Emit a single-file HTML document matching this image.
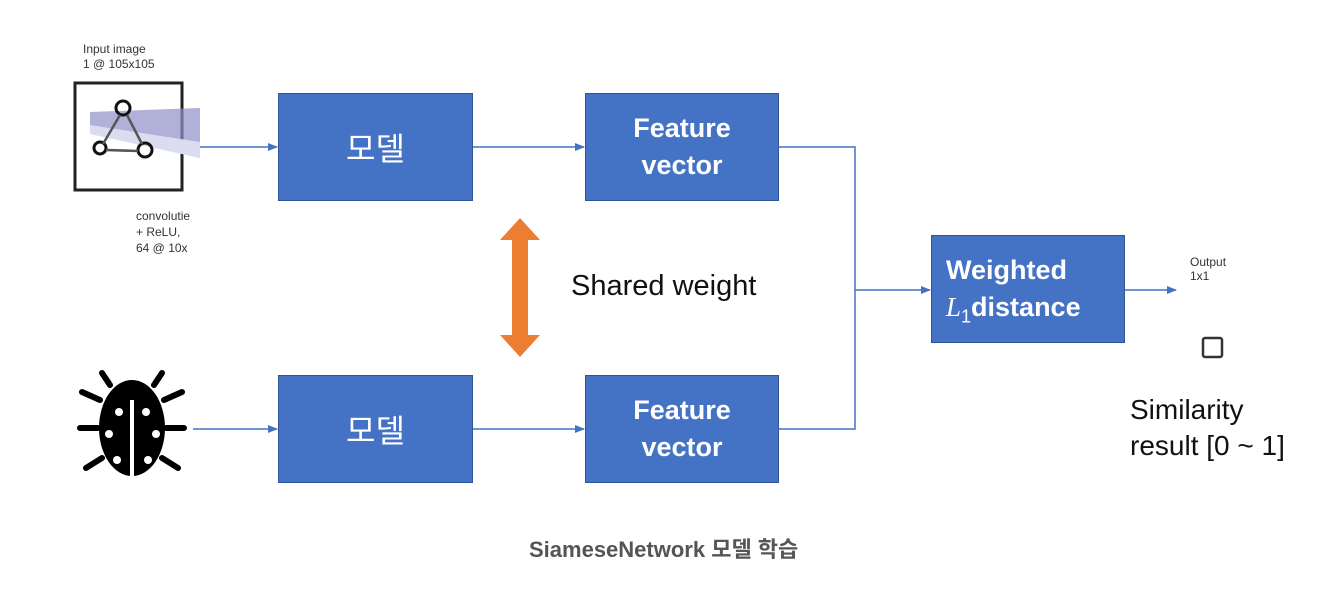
<!DOCTYPE html>
<html><head><meta charset="utf-8"><style>
body{margin:0;width:1344px;height:600px;background:#fff;overflow:hidden;position:relative;font-family:"Liberation Sans","Noto Sans CJK KR",sans-serif}
.b{position:absolute;background:#4472c4;border:1px solid #2f5597;color:#fff;display:flex;align-items:center;justify-content:center;text-align:center;box-sizing:border-box}
.t{position:absolute;white-space:nowrap}
</style></head><body>
<svg width="1344" height="600" style="position:absolute;left:0;top:0">
<defs><marker id="a" markerWidth="10" markerHeight="8" refX="9" refY="4" orient="auto" markerUnits="userSpaceOnUse"><path d="M0,0L10,4L0,8z" fill="#4472c4"/></marker></defs>
<rect x="75" y="83" width="107" height="107" fill="#fff" stroke="#222" stroke-width="3"/>
<polygon points="90,112 200,108 200,158 90,130" fill="#8e8ec8" opacity="0.7"/>
<polygon points="90,125 200,142 200,158 90,134" fill="#dcdcf0"/>
<circle cx="123" cy="108" r="7" fill="none" stroke="#111" stroke-width="3"/>
<circle cx="100" cy="148" r="6" fill="none" stroke="#111" stroke-width="3"/>
<circle cx="145" cy="150" r="7" fill="none" stroke="#111" stroke-width="3"/>
<path d="M120,115L103,144M127,115L142,144M106,150L138,151" stroke="#555" stroke-width="2.5" fill="none"/>
<g fill="#000">
<ellipse cx="132" cy="428" rx="33" ry="48"/>
<path d="M110,385l-8,-12M154,385l8,-12M100,400l-18,-8M164,400l18,-8M98,428l-18,0M166,428l18,0M102,458l-16,10M162,458l16,10" stroke="#000" stroke-width="6" stroke-linecap="round"/>
</g>
<rect x="130" y="400" width="4" height="78" fill="#fff"/>
<g fill="#fff"><circle cx="119" cy="412" r="4"/><circle cx="146" cy="412" r="4"/><circle cx="109" cy="434" r="4"/><circle cx="156" cy="434" r="4"/><circle cx="117" cy="460" r="4"/><circle cx="148" cy="460" r="4"/></g>
<g stroke="#4472c4" stroke-width="1.5" fill="none">
<line x1="200" y1="147" x2="277" y2="147" marker-end="url(#a)"/>
<line x1="193" y1="429" x2="277" y2="429" marker-end="url(#a)"/>
<line x1="473" y1="147" x2="584" y2="147" marker-end="url(#a)"/>
<line x1="473" y1="429" x2="584" y2="429" marker-end="url(#a)"/>
<polyline points="779,147 855,147 855,429 779,429"/>
<line x1="855" y1="290" x2="930" y2="290" marker-end="url(#a)"/>
<line x1="1125" y1="290" x2="1176" y2="290" marker-end="url(#a)"/>
</g>
<polygon points="520,218 540,240 528,240 528,335 540,335 520,357 500,335 512,335 512,240 500,240" fill="#ed7d31"/>
<rect x="1203" y="338" width="19" height="19" fill="none" stroke="#333" stroke-width="2.5" rx="2"/>
</svg>
<div class="t" style="left:83px;top:42px;font-size:12px;line-height:15px;color:#333">Input image<br>1 @ 105x105</div>
<div class="t" style="left:136px;top:208px;font-size:12px;line-height:16px;color:#333;width:64px;overflow:hidden">convolutie<br>+ ReLU,<br>64 @ 10x</div>
<div class="b" style="left:278px;top:93px;width:195px;height:108px;font-size:32px">모델</div>
<div class="b" style="left:278px;top:375px;width:195px;height:108px;font-size:32px">모델</div>
<div class="b" style="left:585px;top:93px;width:194px;height:108px;font-size:27px;line-height:37px;font-weight:bold">Feature<br>vector</div>
<div class="b" style="left:585px;top:375px;width:194px;height:108px;font-size:27px;line-height:37px;font-weight:bold">Feature<br>vector</div>
<div class="b" style="left:931px;top:235px;width:194px;height:108px;font-size:27px;line-height:37px;display:block;text-align:left;padding:16px 0 0 14px;font-weight:bold">Weighted<br><i style="font-family:'Liberation Serif',serif;font-weight:normal">L</i><sub style="font-size:18px;font-weight:normal">1</sub>distance</div>
<div class="t" style="left:571px;top:270px;font-size:29px;color:#111">Shared weight</div>
<div class="t" style="left:1190px;top:255px;font-size:12px;line-height:14px;color:#333">Output<br>1x1</div>
<div class="t" style="left:1130px;top:392px;font-size:28px;line-height:36px;color:#111">Similarity<br>result [0 ~ 1]</div>
<div class="t" style="left:529px;top:532px;font-size:22px;font-weight:bold;color:#555">SiameseNetwork 모델 학습</div>
</body></html>
